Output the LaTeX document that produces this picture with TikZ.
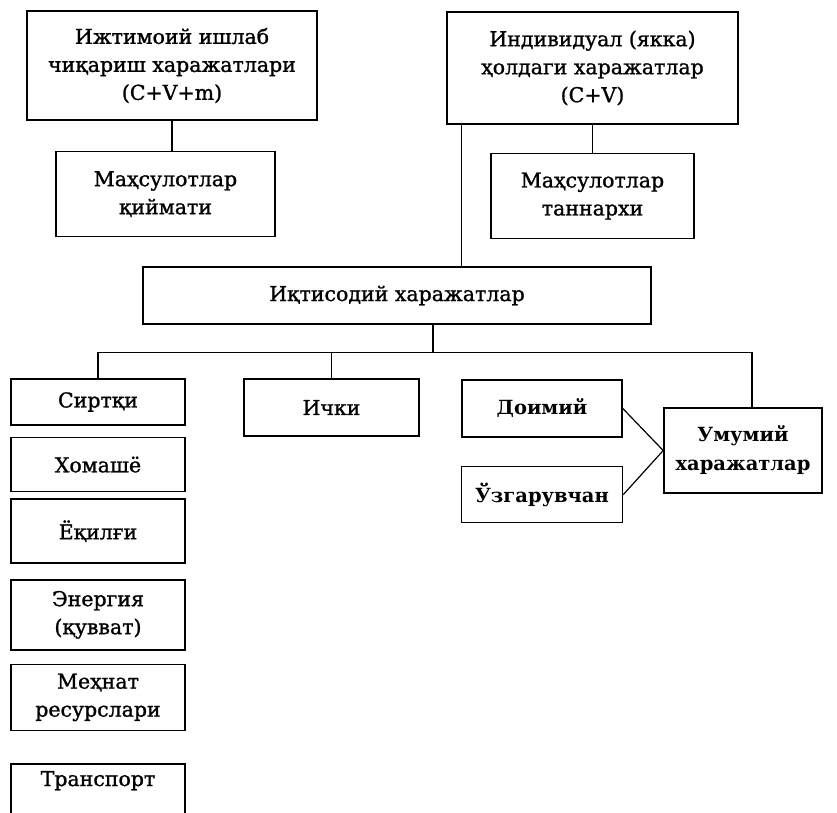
\documentclass[tikz,border=0pt]{standalone}
\usepackage{fontspec}
\setmainfont{DejaVu Serif}
\newfontfamily\semibold{DejaVu Serif}[FakeBold=1.2]
\usepackage{tikz}
\usetikzlibrary{positioning}

\begin{document}
\begin{tikzpicture}[x=1pt,y=1pt,node distance=10pt,box/.style={draw,line width=1.6pt,align=center,inner sep=3pt,font=\fontsize{20.5}{28}\selectfont\semibold},heavy/.style={box,font=\fontsize{19.5}{29}\selectfont\bfseries},link/.style={line width=1.2pt}]
\useasboundingbox (0,0) rectangle (837,-812);
% top row
\node[box,minimum width=290pt,minimum height=109pt] (social) at (172,-65.5) {Ижтимоий ишлаб\\чиқариш харажатлари\\(C+V+m)};
\node[box,minimum width=219pt,minimum height=85pt,below=30pt of social,xshift=-6.5pt] (value) {Маҳсулотлар\\қиймати};
\node[box,minimum width=291pt,minimum height=112pt] (indiv) at (592.5,-68) {Индивидуал (якка)\\ҳолдаги харажатлар\\(C+V)};
\node[box,minimum width=203pt,minimum height=85pt,below=28pt of indiv] (cost) {Маҳсулотлар\\таннархи};
\node[box,minimum width=508pt,minimum height=57pt] (econ) at (397,-295.5) {Иқтисодий харажатлар};
% left column
\node[box,minimum width=174pt,minimum height=46pt] (outer) at (98,-402) {Сиртқи};
\node[box,minimum width=174pt,minimum height=54pt,below=11pt of outer] (raw) {Хомашё};
\node[box,minimum width=174pt,minimum height=64pt,below=6pt of raw] (fuel) {Ёқилғи};
\node[box,minimum width=174pt,minimum height=70pt,below=15pt of fuel] (energy) {Энергия\\(қувват)};
\node[box,minimum width=174pt,minimum height=66pt,below=13pt of energy] (labour) {Меҳнат\\ресурслари};
\node[box,minimum width=174pt,text height=15pt,text depth=52pt,inner ysep=7pt,below=32pt of labour] (transport) {Транспорт};
% middle and right
\node[box,minimum width=175pt,minimum height=57pt] (inner) at (331.5,-407.5) {Ички};
\node[heavy,minimum width=160pt,minimum height=57pt] (fixed) at (542,-408.5) {Доимий};
\node[heavy,minimum width=161pt,minimum height=56pt,below=28pt of fixed] (variable) {Ўзгарувчан};
\node[heavy,minimum width=158pt,minimum height=85pt] (total) at (743,-450.5) {Умумий\\харажатлар};
% connectors
\draw[link] (social.south) -- (social.south |- value.north);
\draw[link] (indiv.south) -- (cost.north);
\coordinate (ij) at ([xshift=15pt]indiv.south west);
\draw[link] (ij) -- (ij |- econ.north);
\draw[link] ([xshift=36pt]econ.south) -- ++(0,-28) coordinate (ej);
\draw[link] (outer.north) |- (ej) -| ([xshift=9pt]total.north);
\draw[link] (inner.north) -- (inner.north |- ej);
\draw[link] (fixed.east) -- (total.west);
\draw[link] (variable.east) -- (total.west);
\end{tikzpicture}
\end{document}
